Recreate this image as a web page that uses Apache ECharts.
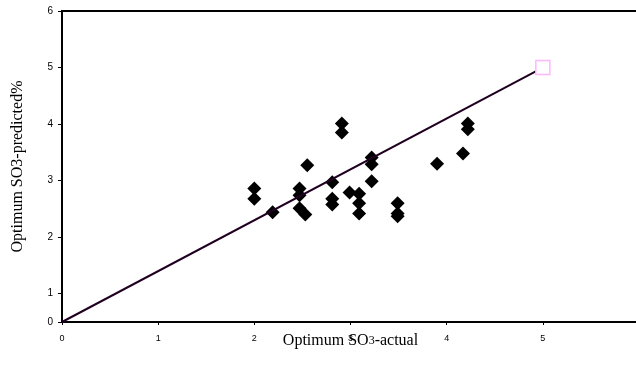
<!DOCTYPE html>
<html>
<head>
<meta charset="utf-8">
<script src="https://cdn.jsdelivr.net/npm/echarts@6/dist/echarts.min.js"></script>
<style>
  html, body { margin: 0; padding: 0; background: #fff; }
  #chart { width: 636px; height: 380px; }
</style>
</head>
<body>
<div id="chart"></div>
<script>
// measured SO3 values (actual vs predicted)
const actualSO3 = [2.0, 2.0, 2.19, 2.47, 2.47, 2.47, 2.53, 2.55, 2.81, 2.81, 2.81,
                   2.91, 2.91, 2.99, 3.09, 3.09, 3.09, 3.22, 3.22, 3.22,
                   3.49, 3.49, 3.49, 3.90, 4.17, 4.22, 4.22];
const predictedSO3 = [2.86, 2.68, 2.44, 2.86, 2.74, 2.51, 2.40, 3.27, 2.97, 2.68, 2.58,
                      4.01, 3.85, 2.79, 2.77, 2.60, 2.42, 3.41, 3.29, 2.99,
                      2.60, 2.42, 2.37, 3.30, 3.48, 4.01, 3.91];

// reference line
const lineX = [0, 5];
const lineY = [0.5, 5];

const xTicks = [0, 1, 2, 3, 4, 5, 6];

const chart = echarts.init(document.getElementById('chart'));

chart.setOption({
    animation: false,
    backgroundColor: '#fff',
    grid: {
        left: 62,
        top: 11,
        right: -3,
        bottom: 58,
        outerBoundsMode: 'none',
        containLabel: false,
        show: true,
        borderColor: '#000',
        borderWidth: 2
    },
    xAxis: {
        type: 'value',
        min: xTicks[0],
        max: xTicks[xTicks.length - 1],
        interval: 1,
        name: 'Optimum SO{s|3}-actual',
        nameLocation: 'middle',
        nameGap: 11,
        nameMoveOverlap: false,
        nameTextStyle: {
            color: '#000',
            fontFamily: 'Liberation Serif',
            fontSize: 16,
            rich: {
                s: { fontFamily: 'Liberation Serif', fontSize: 12, color: '#000' }
            }
        },
        splitLine: { show: false },
        axisLine: { lineStyle: { color: '#000', width: 2 } },
        axisTick: { length: 3, lineStyle: { color: '#000' } },
        axisLabel: {
            color: '#000',
            fontFamily: 'Liberation Sans',
            fontSize: 9,
            margin: 12,
            hideOverlap: false
        }
    },
    yAxis: {
        type: 'value',
        min: 0.5,
        max: 6,
        name: 'Optimum SO3-predicted%',
        nameLocation: 'middle',
        nameGap: 36,
        nameMoveOverlap: false,
        nameTextStyle: {
            color: '#000',
            fontFamily: 'Liberation Serif',
            fontSize: 16
        },
        splitLine: { show: false },
        axisLine: { onZero: false, lineStyle: { color: '#000', width: 2 } },
        axisTick: { length: 4, lineStyle: { color: '#000' } },
        axisLabel: {
            color: '#000',
            fontFamily: 'Liberation Sans',
            fontSize: 10,
            margin: 9,
            formatter: function (v) { return v < 1 ? '0' : String(v); }
        }
    },
    series: [
        {
            name: 'Data',
            type: 'scatter',
            symbol: 'diamond',
            symbolSize: 14,
            itemStyle: { color: '#000', opacity: 1 },
            data: actualSO3.map((x, i) => [x, predictedSO3[i]])
        },
        {
            name: 'Line',
            type: 'line',
            symbol: 'rect',
            symbolSize: 14,
            showSymbol: true,
            lineStyle: { color: '#200020', width: 2 },
            itemStyle: { color: '#fff', borderColor: '#ffb6ff', borderWidth: 1.5 },
            // start marker sits hidden under the axes in the original
            data: lineX.map((x, i) => i === 0
                ? { value: [x, lineY[i]], symbol: 'none' }
                : [x, lineY[i]])
        }
    ]
});
</script>
</body>
</html>
